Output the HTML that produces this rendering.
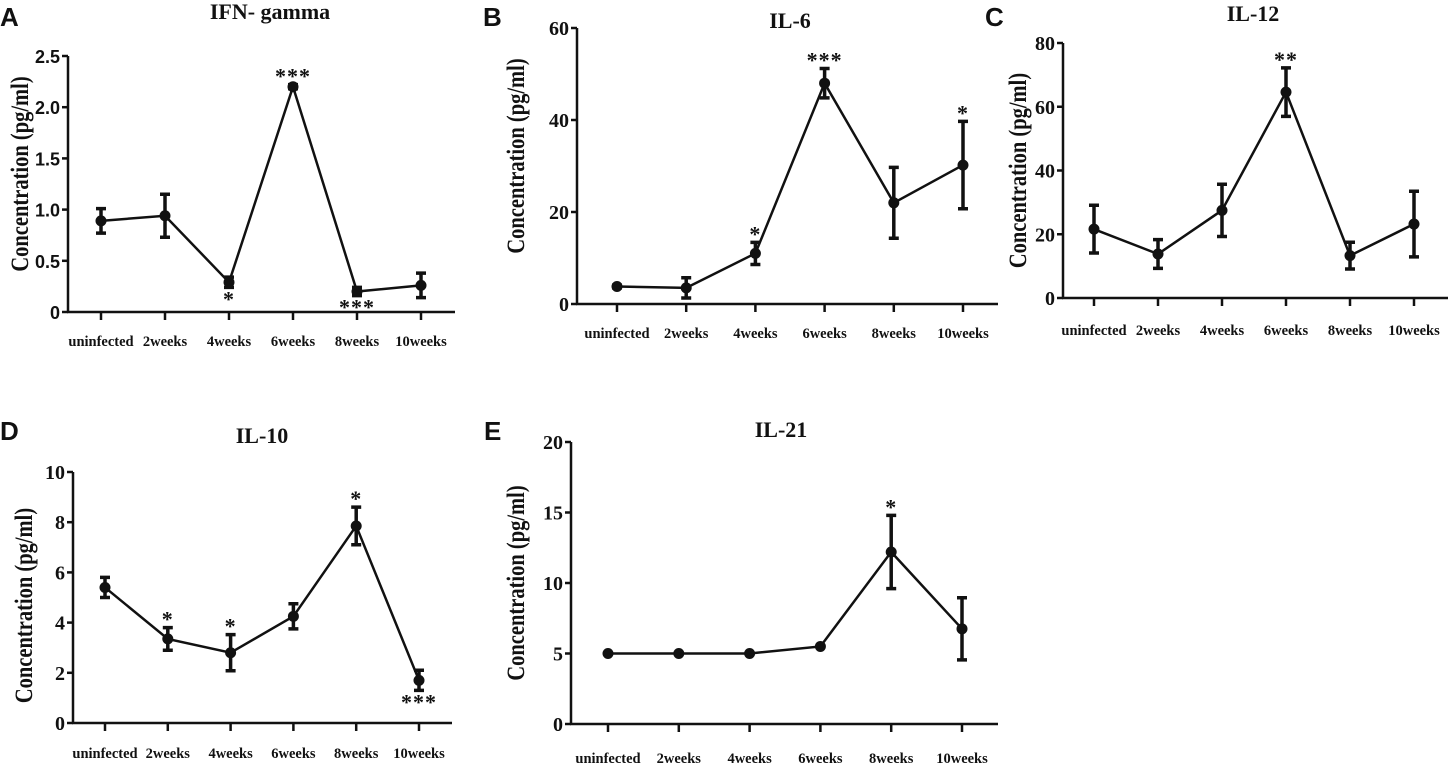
<!DOCTYPE html>
<html><head><meta charset="utf-8"><style>
body{margin:0;background:#fff;width:1451px;height:765px;overflow:hidden}
svg{display:block}
text{font-family:"Liberation Serif",serif;font-weight:bold;fill:#111}
.sans{font-family:"Liberation Sans",sans-serif}
</style></head><body>
<svg id="fig" width="1451" height="765" viewBox="0 0 1451 765"></svg>
<script>
const categories = ["uninfected","2weeks","4weeks","6weeks","8weeks","10weeks"];
const ifnValues = [0.89,0.94,0.29,2.2,0.2,0.26];
const ifnErrors = [0.12,0.21,0.05,0.02,0.04,0.12];
const ifnStars = ["","","*","***","***",""];
const ifnStarBelow = [false,false,true,false,true,false];
const ifnTicks = ["0","0.5","1.0","1.5","2.0","2.5"];
const il6Values = [3.8,3.5,11,48,22,30.2];
const il6Errors = [0.3,2.2,2.4,3.2,7.7,9.5];
const il6Stars = ["","","*","***","","*"];
const il6Ticks = ["0","20","40","60"];
const il12Values = [21.6,13.8,27.5,64.6,13.3,23.2];
const il12Errors = [7.5,4.5,8.2,7.6,4.2,10.3];
const il12Stars = ["","","","**","",""];
const il12Ticks = ["0","20","40","60","80"];
const il10Values = [5.4,3.35,2.8,4.25,7.85,1.7];
const il10Errors = [0.4,0.45,0.72,0.5,0.75,0.4];
const il10Stars = ["","*","*","","*","***"];
const il10StarBelow = [false,false,false,false,false,true];
const il10Ticks = ["0","2","4","6","8","10"];
const il21Values = [5,5,5,5.5,12.2,6.75];
const il21Errors = [0,0,0,0,2.6,2.2];
const il21Stars = ["","","","","*",""];
const il21Ticks = ["0","5","10","15","20"];

const NS="http://www.w3.org/2000/svg";
const svg=document.getElementById('fig');
function mk(tag,attrs,parent,txt){const e=document.createElementNS(NS,tag);for(const k in attrs)e.setAttribute(k,attrs[k]);if(txt!==undefined)e.textContent=txt;(parent||svg).appendChild(e);return e;}

function panel(cfg){
  const g=mk('g',{});
  
  
  const maxV=parseFloat(cfg.ticks[cfg.ticks.length-1]);
  const y=v=>cfg.y0-(v/maxV)*(cfg.y0-cfg.yTop);
  const x=i=>cfg.xs0+i*(cfg.xs1-cfg.xs0)/(categories.length-1);
  const L=mk('text',{x:cfg.lx,y:cfg.ly,'font-size':26,class:'sans'},g,cfg.letter);
  
  
  const T=mk('text',{x:cfg.tx,y:cfg.ty,'font-size':22,'text-anchor':'middle'},g,cfg.title);
  
  
  const ya=mk('line',{x1:cfg.ax,y1:cfg.yTop,x2:cfg.ax,y2:cfg.y0+1,stroke:'#111','stroke-width':2.5},g);
  
  
  const xa=mk('line',{x1:cfg.ax-1,y1:cfg.y0,x2:cfg.axEnd,y2:cfg.y0,stroke:'#111','stroke-width':2.5},g);
  
  
  cfg.ticks.forEach(t=>{
    const v=parseFloat(t), yy=y(v);
    mk('line',{x1:cfg.ax-6,y1:yy,x2:cfg.ax,y2:yy,stroke:'#111','stroke-width':2.5},g);
    const tl=mk('text',{x:cfg.ax-8,y:yy+7,'font-size':cfg.tickSans?18:20,'text-anchor':'end',class:cfg.tickSans?'sans':''},g,t);
    
    
  });
  const yt=mk('text',{transform:`translate(${cfg.ytx},${(cfg.y0+cfg.yTop)/2+cfg.ytdy}) rotate(-90) scale(0.82,1)`,'font-size':25,'text-anchor':'middle'},g,'Concentration (pg/ml)');
  
  
  categories.forEach((c,i)=>{
    mk('line',{x1:x(i),y1:cfg.y0,x2:x(i),y2:cfg.y0+8,stroke:'#111','stroke-width':2.5},g);
    const xl=mk('text',{x:x(i),y:cfg.xly,'font-size':14.5,'text-anchor':'middle'},g,c);
    
    
  });
  const pts=cfg.values.map((v,i)=>x(i)+','+y(v)).join(' ');
  const line=mk('polyline',{points:pts,fill:'none',stroke:'#111','stroke-width':2.5},g);
  
  
  cfg.values.forEach((v,i)=>{
    const e=cfg.errors[i];
    if(e>0){
      const eb=mk('path',{d:`M${x(i)},${y(v+e)}V${y(v-e)}M${x(i)-5},${y(v+e)}h10M${x(i)-5},${y(v-e)}h10`,stroke:'#111','stroke-width':3.5,fill:'none'},g);
      
      
    }
    const p=mk('circle',{cx:x(i),cy:y(v),r:5.5,fill:'#111'},g);
    
    
    const s=cfg.stars[i];
    if(s){
      const below=cfg.below&&cfg.below[i];
      const sy=below?y(v-e)+19:y(v+e)-1;
      const st=mk('text',{x:x(i),y:sy,'font-size':22,'text-anchor':'middle','font-weight':'normal',fill:'#555','letter-spacing':'1'},g,s);
      
      
    }
  });
}
panel({id:'ifn-gamma',letter:'A',title:'IFN- gamma',lx:0,ly:26,tx:270,ty:19,ax:68,axEnd:455,y0:312,yTop:56,xs0:101,xs1:421,xly:346,ytx:28,ytdy:-10,ticks:ifnTicks,values:ifnValues,errors:ifnErrors,stars:ifnStars,below:ifnStarBelow,tickSans:true});
panel({id:'il-6',letter:'B',title:'IL-6',lx:483,ly:26,tx:790,ty:28,ax:577,axEnd:998,y0:304,yTop:28,xs0:617,xs1:963,xly:338,ytx:524,ytdy:-10,ticks:il6Ticks,values:il6Values,errors:il6Errors,stars:il6Stars});
panel({id:'il-12',letter:'C',title:'IL-12',lx:985,ly:26,tx:1253,ty:21,ax:1063,axEnd:1448,y0:298,yTop:43,xs0:1094,xs1:1414,xly:335,ytx:1026,ytdy:0,ticks:il12Ticks,values:il12Values,errors:il12Errors,stars:il12Stars});
panel({id:'il-10',letter:'D',title:'IL-10',lx:0,ly:440,tx:262,ty:443,ax:73,axEnd:452,y0:723,yTop:472,xs0:105,xs1:419,xly:758,ytx:32,ytdy:8,ticks:il10Ticks,values:il10Values,errors:il10Errors,stars:il10Stars,below:il10StarBelow});
panel({id:'il-21',letter:'E',title:'IL-21',lx:484,ly:440,tx:781,ty:437,ax:571,axEnd:998,y0:724,yTop:442,xs0:608,xs1:962,xly:763,ytx:524,ytdy:0,ticks:il21Ticks,values:il21Values,errors:il21Errors,stars:il21Stars});
</script>
</body></html>
